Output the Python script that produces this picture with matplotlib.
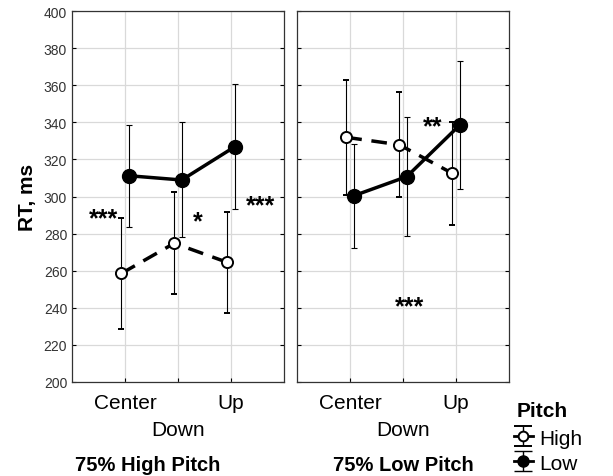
import matplotlib
matplotlib.use("Agg")
import matplotlib.pyplot as plt
import numpy as np

plt.rcParams['font.family'] = ['Liberation Sans', 'DejaVu Sans']

categories = ["Center", "Down", "Up"]
panels = ["75% High Pitch", "75% Low Pitch"]

# Left panel (75% High Pitch)
high_mean_1 = [258.5, 274.8, 264.5]
high_err_1 = [30.0, 27.6, 27.3]
low_mean_1 = [311.2, 308.9, 326.8]
low_err_1 = [27.5, 31.0, 33.6]

# Right panel (75% Low Pitch)
high_mean_2 = [331.9, 327.9, 312.5]
high_err_2 = [31.0, 28.3, 27.8]
low_mean_2 = [300.4, 310.7, 338.5]
low_err_2 = [28.0, 32.0, 34.5]

stars_1 = [("***", -0.4, 288.0), ("*", 1.38, 286.5), ("***", 2.55, 295.0)]
stars_2 = [("**", 1.56, 338.0), ("***", 1.13, 241.0)]

W, H = 613, 477
fig = plt.figure(figsize=(W / 100, H / 100), dpi=100)

ax1 = fig.add_axes([72 / W, (H - 383) / H, 212 / W, 371 / H])
ax2 = fig.add_axes([297 / W, (H - 383) / H, 212 / W, 371 / H])

x = np.arange(len(categories))
off = 0.07
high_style = dict(color='black', lw=2.5, ls=(0, (4.5, 2.8)), marker='o', ms=8,
                  mfc='white', mec='black', mew=1.4, ecolor='black')
low_style = dict(color='black', lw=2.5, ls='-', marker='o', ms=10,
                 mfc='black', mec='black', ecolor='black')

def draw(ax, hm, he, lm, le, stars):
    ax.set_xlim(-1, 3)
    ax.set_ylim(200, 400)
    ax.set_yticks(np.arange(200, 401, 20))
    ax.set_xticks(x)
    ax.grid(True, color='#d9d9d9', lw=0.9)
    ax.set_axisbelow(True)
    ax.errorbar(x - off, hm, yerr=he, elinewidth=0.8, capsize=2.5, capthick=0.8,
                zorder=3, **high_style)
    ax.errorbar(x + off, lm, yerr=le, elinewidth=0.8, capsize=2.5, capthick=0.8,
                zorder=4, **low_style)
    for s, sx, sy in stars:
        ax.text(sx, sy, s, ha='center', va='center', fontsize=18, fontweight='bold')
    ax.tick_params(axis='both', direction='in', length=3, top=False, right=True,
                   labelsize=10, labelcolor='#333333')
    ax.tick_params(axis='x', labelsize=15, labelcolor='black', pad=8)
    ax.set_xticklabels(["Center", "\nDown", "Up"], linespacing=1.5)
    for sp in ax.spines.values():
        sp.set_linewidth(0.9)
        sp.set_color('#333333')

draw(ax1, high_mean_1, high_err_1, low_mean_1, low_err_1, stars_1)
draw(ax2, high_mean_2, high_err_2, low_mean_2, low_err_2, stars_2)
ax2.set_yticklabels([])
ax1.set_ylabel("RT, ms", fontsize=15, fontweight='bold', labelpad=5)

fig.text(148 / W, 1 - 466 / H, panels[0], ha='center', va='center', fontsize=14.5, fontweight='bold')
fig.text(403 / W, 1 - 466 / H, panels[1], ha='center', va='center', fontsize=14.5, fontweight='bold')

# legend proxies (errorbar containers with no visible data)
hs = dict(high_style); hs['ms'] = 7; hs['lw'] = 2.0; hs['ls'] = '-'
ls_ = dict(low_style); ls_['ms'] = 8; ls_['lw'] = 2.0
eh = ax2.errorbar([np.nan], [np.nan], yerr=[1.0], elinewidth=1.0, capsize=6.5, capthick=1.0, **hs)
el = ax2.errorbar([np.nan], [np.nan], yerr=[1.0], elinewidth=1.0, capsize=6.5, capthick=1.0, **ls_)

fig.text(517 / W, 1 - 412 / H, "Pitch", ha='left', va='center', fontsize=15, fontweight='bold')
leg = fig.legend([eh, el], ["High", "Low"], loc='upper left',
                 bbox_to_anchor=(514 / W, 1 - 429 / H), frameon=False,
                 fontsize=15, handlelength=0.9, handletextpad=0.3,
                 labelspacing=0.25, borderaxespad=0, borderpad=0, handleheight=0.9)

fig.savefig("out.png", dpi=100)
